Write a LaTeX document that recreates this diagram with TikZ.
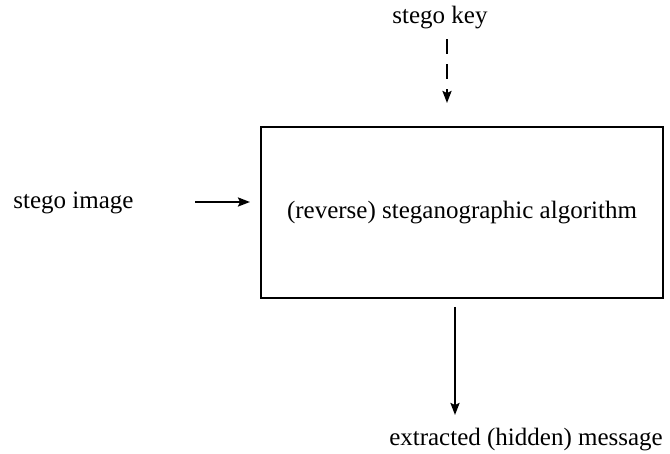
\documentclass[tikz,border=0pt]{standalone}
\usepackage{fontspec}
\setmainfont{Liberation Serif}
\usetikzlibrary{
    arrows.meta,
    calc,
    positioning
}
\tikzset{
    every picture/.style = {
        > = {Stealth[length=6pt, width=4.5pt, inset=1pt]},
        line width = 1.1pt
    },
    every node/.style = {
        inner sep = 1pt,
        outer sep = 0pt,
        align = center
    },
    block/.style = {
        draw,
        minimum width = 201pt,
        minimum height = 85.5pt
    },
    keyline/.style = {
        dash pattern = on 7.5pt off 5pt
    }
}

\begin{document}
\begin{tikzpicture}[x = 0.5pt, y = -0.5pt, node font = {\fontsize{12.5}{14}\selectfont}]
    \useasboundingbox (0,0) rectangle (670,454);

    \node[block] (algo) at (462,212.5) {(reverse) steganographic algorithm};
    \node (key) at (440,18) {stego key};
    \node (img) at (73.5,203) {stego image};
    \node (msg) at (526,440) {extracted (hidden) message};

    \coordinate (keyin) at (447,103);
    \coordinate (imgin) at (250,202);
    \coordinate (msgout) at (455,415);

    \draw[->, keyline] ($(key.south -| keyin) + (0,8)$) -- (keyin);
    \draw[->] (imgin -| 195,0) -- (imgin);
    \draw[->] ($(algo.south -| msgout) + (0,9)$) -- (msgout);
\end{tikzpicture}
\end{document}
